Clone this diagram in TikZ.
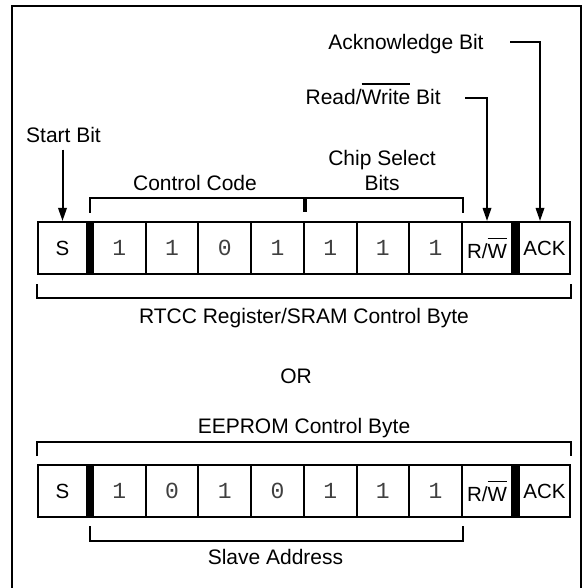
\documentclass[tikz,border=0pt]{standalone}
\usepackage{fontspec}
\setmainfont{Liberation Sans}
\setmonofont{Liberation Mono}
\usetikzlibrary{arrows.meta}
\newcommand\barred[1]{\setbox0\hbox{#1}\rlap{\rule[\dimexpr\ht0+2.3pt\relax]{\wd0}{0.9pt}}\box0}
\begin{document}
\begin{tikzpicture}[x=0.5pt,y=-0.5pt,line cap=butt,
    font=\fontsize{10.5}{12.5}\selectfont,
    cell/.style={draw,line width=1pt,minimum height=26pt,inner sep=0pt,font=\fontsize{10.25}{12}\selectfont},
    bitcell/.style={cell,minimum width=26.35pt,text=black!75,font=\ttfamily\fontsize{11.5}{13}\selectfont},
    lbl/.style={inner sep=0pt,anchor=base},
    brace/.style={line width=1pt},
    arr/.style={line width=1pt,-{Triangle[length=6.5pt,width=4.2pt]}}]
    \useasboundingbox (0,0) rectangle (586,588);
    % frame, open at the bottom
    \draw[line width=1.3pt] (12,600) |- (581,6) -- (581,600);
    % the two control bytes
    \foreach \row/\yy/\bits in {top/248/{1,1,0,1,1,1,1},bot/491/{1,0,1,0,1,1,1}}{
        \node[cell,minimum width=24.5pt] (\row-S) at (62.5,\yy) {S};
        \foreach \b [count=\i] in \bits
            \node[bitcell] (\row-b\i) at ({93+52.7*(\i-0.5)},\yy) {\b};
        \node[cell,minimum width=25pt] (\row-rw) at (487,\yy) {R/\barred{W}};
        \node[cell,minimum width=25.5pt] (\row-ack) at (544.5,\yy) {ACK};
        \fill (\row-S.north east) rectangle (\row-b1.south west);
        \fill (\row-rw.north east) rectangle (\row-ack.south west);
    }
    % labels
    \node[lbl] (startl) at (63.5,143) {Start Bit};
    \node[lbl,anchor=base east] (rwl) at (441,105) {Read/\barred{Write}\ Bit};
    \node[lbl,anchor=base east] (ackl) at (484,50) {Acknowledge Bit};
    \node[lbl] (ccl) at (195,191) {Control Code};
    \node[lbl,anchor=south,align=center] (csl) at (382,191) {Chip Select\\Bits};
    \node[lbl] (rtccl) at (304,323) {RTCC Register/SRAM Control Byte};
    \node[lbl] (orl) at (296,383) {OR};
    \node[lbl] (eepl) at (304,433) {EEPROM Control Byte};
    \node[lbl] (slavel) at (275.5,564) {Slave Address};
    % arrows
    \draw[arr,shorten <=3pt] (startl.south -| top-S.north) -- (top-S.north);
    \draw[arr] ([xshift=12pt,yshift=3.5pt]rwl.base east) -| (top-rw.north);
    \draw[arr] ([xshift=13pt,yshift=4pt]ackl.base east) -| ([xshift=-2.25pt]top-ack.north);
    % brackets
    \draw[brace] ([xshift=1pt]top-S.north east) ++(0,-8) -- ++(0,-15) -| ([yshift=4pt]top-b7.north east);
    \draw[line width=1.75pt] (top-b4.north east) ++(0,-23) -- ++(0,14);
    \draw[brace] (top-S.south west) ++(0,9) -- ++(0,14) -| ([yshift=-4.5pt]top-ack.south east);
    \draw[brace] (bot-S.north west) ++(0,-8) -- ++(0,-14) -| ([yshift=4pt]bot-ack.north east);
    \draw[brace] ([xshift=1pt]bot-S.south east) ++(0,8) -- ++(0,15) -| ([yshift=-4pt]bot-b7.south east);
\end{tikzpicture}
\end{document}
